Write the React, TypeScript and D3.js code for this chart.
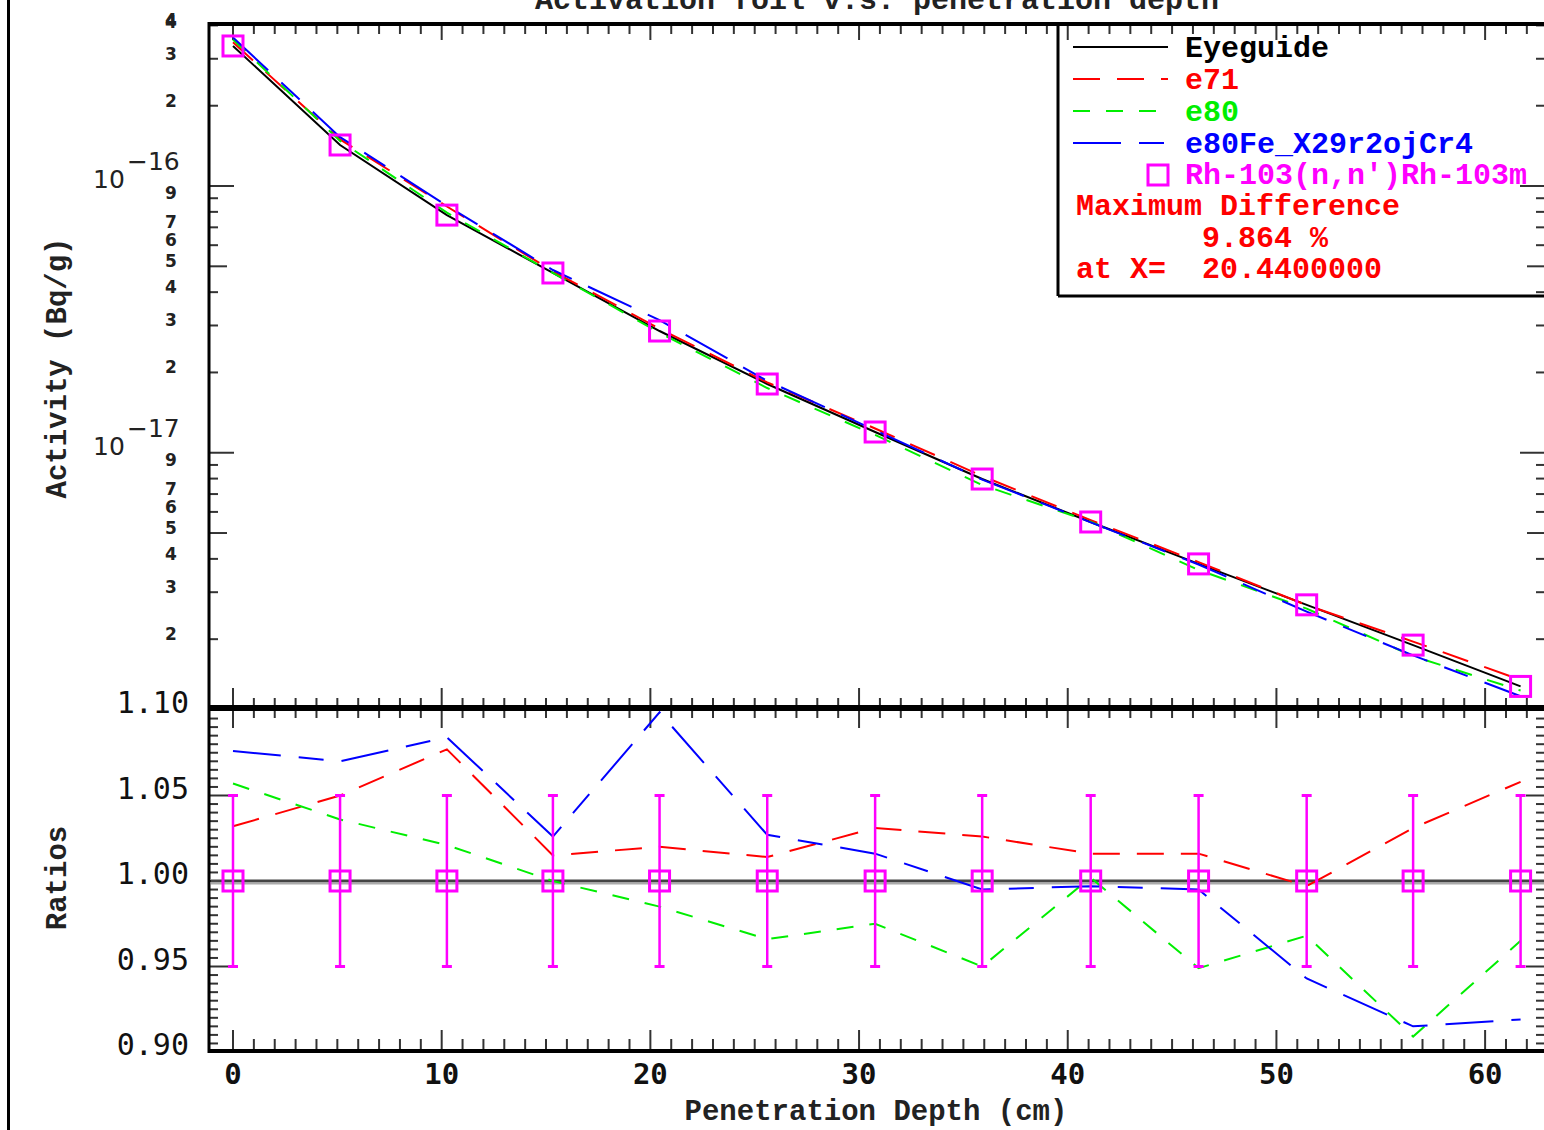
import React from 'react';
import * as d3 from 'd3';

// depth points (cm) and measured activity (Bq/g)
const depth = [0, 5.13, 10.25, 15.33, 20.44, 25.6, 30.77, 35.9, 41.1, 46.27, 51.45, 56.55, 61.7];
const activity = [3.35e-16, 1.425e-16, 7.78e-17, 4.72e-17, 2.86e-17, 1.81e-17, 1.196e-17, 7.97e-18, 5.5e-18, 3.83e-18, 2.69e-18, 1.9e-18, 1.33e-18];

// calculated / measured ratios
const ratioE71 = [1.032, 1.05, 1.077, 1.015, 1.02, 1.014, 1.031, 1.026, 1.016, 1.016, 0.997, 1.031, 1.058];
const ratioE80 = [1.057, 1.036, 1.021, 1.0, 0.985, 0.966, 0.975, 0.95, 1.002, 0.949, 0.968, 0.909, 0.965];
const ratioE80Fe = [1.076, 1.07, 1.084, 1.026, 1.0986, 1.027, 1.016, 0.995, 0.997, 0.995, 0.943, 0.915, 0.919];
const errLow = 0.95;
const errHigh = 1.05;

const xTickLabels = [0, 10, 20, 30, 40, 50, 60];
const ratioTickLabels = ['1.10', '1.05', '1.00', '0.95', '0.90'];
const logDecades = [-18, -17, -16];
const logMinorLabels = [2, 3, 4, 5, 6, 7, 9];

const series = [
  { name: 'e71', ratio: ratioE71, color: '#ff0000', dash: '27,17' },
  { name: 'e80', ratio: ratioE80, color: '#00ee00', dash: '17,16' },
  { name: 'e80Fe_X29r2ojCr4', ratio: ratioE80Fe, color: '#0000ff', dash: '48,18,25,18' },
];

const MONO = '"Liberation Mono", monospace';
const NUM = '"DejaVu Sans Mono", monospace';
const SANS = '"DejaVu Sans", sans-serif';

const App = () => {
  const left = 209, right = 1545, top = 24, mid = 708, bottom = 1051;

  const x = d3.scaleLinear().domain([-1.15, 62.87]).range([left, right]);
  const yLog = d3.scaleLog().domain([1.104e-18, 4.05e-16]).range([mid, top]);
  const yR = d3.scaleLinear().domain([0.9, 1.1]).range([1052, 710]);

  const lineTop = d3.line<number>().x((_, i) => x(depth[i])).y(v => yLog(v));
  const lineRatio = d3.line<number>().x((_, i) => x(depth[i])).y(v => yR(v));

  const xTicks = d3.range(0, 63);
  const logTicks: number[] = [];
  logDecades.forEach(d => {
    for (let m = 1; m <= 9; m++) {
      const v = m * Math.pow(10, d);
      if (v >= 1.104e-18 && v <= 4.05e-16) logTicks.push(v);
    }
  });
  const ratioTicks = d3.range(0, 41).map(i => 0.9 + i * 0.005);

  const tickColor = '#333';

  return (
    <div style={{ position: 'fixed', left: 0, top: 0 }}>
      <svg width={1544} height={1130} style={{ display: 'block', background: '#fff' }}>
        {/* page border */}
        <line x1={8.5} x2={8.5} y1={0} y2={1130} stroke="#000" strokeWidth={3} />

        {/* title, mostly cut at top */}
        <text x={877} y={9} textAnchor="middle" fontFamily={MONO} fontWeight="bold" fontSize={30} fill="#222">
          Activation foil v.s. penetration depth
        </text>

        {/* x ticks: top of upper, middle, bottom */}
        {xTicks.map(t => {
          const major = t % 10 === 0;
          const xx = x(t);
          return (
            <g key={'xt' + t} stroke={tickColor} strokeWidth={2}>
              <line x1={xx} x2={xx} y1={top} y2={top + (major ? 16 : 10)} />
              <line x1={xx} x2={xx} y1={mid - (major ? 20 : 10)} y2={mid + (major ? 20 : 10)} />
              <line x1={xx} x2={xx} y1={bottom} y2={bottom - (major ? 21 : 12)} />
            </g>
          );
        })}

        {/* log y ticks */}
        {logTicks.map((v, i) => {
          const m = Math.round(v / Math.pow(10, Math.floor(Math.log10(v) + 1e-9)));
          const len = m === 1 ? 25 : m === 5 ? 18 : 9;
          const yy = yLog(v);
          return (
            <g key={'lt' + i} stroke={tickColor} strokeWidth={2}>
              <line x1={left} x2={left + len} y1={yy} y2={yy} />
              <line x1={right} x2={right - len} y1={yy} y2={yy} />
            </g>
          );
        })}

        {/* ratio y ticks */}
        {ratioTicks.map((v, i) => {
          const len = i % 10 === 0 ? 19 : 9;
          const yy = yR(v);
          return (
            <g key={'rt' + i} stroke={tickColor} strokeWidth={2}>
              <line x1={left} x2={left + len} y1={yy} y2={yy} />
              <line x1={right} x2={right - len} y1={yy} y2={yy} />
            </g>
          );
        })}

        {/* frame */}
        <g stroke="#000" fill="none">
          <line x1={left} x2={left} y1={top - 2} y2={bottom + 2} strokeWidth={3} />
          <line x1={left} x2={right} y1={top} y2={top} strokeWidth={4} />
          <line x1={left} x2={right} y1={mid} y2={mid} strokeWidth={6} />
          <line x1={left} x2={right} y1={bottom} y2={bottom} strokeWidth={4} />
        </g>

        {/* upper panel curves */}
        <path d={lineTop(activity) || ''} fill="none" stroke="#000" strokeWidth={2} />
        {series.map(s => (
          <path
            key={'u' + s.name}
            d={lineTop(activity.map((a, i) => a * s.ratio[i])) || ''}
            fill="none"
            stroke={s.color}
            strokeWidth={2}
            strokeDasharray={s.dash}
          />
        ))}
        {activity.map((a, i) => (
          <rect key={'sq' + i} x={x(depth[i]) - 10} y={yLog(a) - 10} width={20} height={20}
            fill="none" stroke="#ff00ff" strokeWidth={3} />
        ))}

        {/* ratio panel */}
        <line x1={left + 2} x2={right} y1={yR(1)} y2={yR(1)} stroke="#444" strokeWidth={3} />
        <line x1={left + 2} x2={right} y1={yR(1) + 2.5} y2={yR(1) + 2.5} stroke="#aaa" strokeWidth={2} />
        {series.map(s => (
          <path
            key={'r' + s.name}
            d={lineRatio(s.ratio) || ''}
            fill="none"
            stroke={s.color}
            strokeWidth={2}
            strokeDasharray={s.dash}
          />
        ))}
        {depth.map((d, i) => {
          const xx = x(d);
          return (
            <g key={'eb' + i} stroke="#ff00ff" fill="none">
              <line x1={xx} x2={xx} y1={yR(errLow)} y2={yR(errHigh)} strokeWidth={2.5} />
              <line x1={xx - 5} x2={xx + 5} y1={yR(errLow)} y2={yR(errLow)} strokeWidth={3} />
              <line x1={xx - 5} x2={xx + 5} y1={yR(errHigh)} y2={yR(errHigh)} strokeWidth={3} />
              <rect x={xx - 10} y={yR(1) - 10} width={20} height={20} strokeWidth={3} />
            </g>
          );
        })}

        {/* legend box */}
        <g stroke="#000" strokeWidth={3}>
          <line x1={1058} x2={1058} y1={top} y2={296} />
          <line x1={1058} x2={right} y1={296} y2={296} />
        </g>
        <line x1={1073} x2={1168} y1={47} y2={47} stroke="#000" strokeWidth={2} />
        <text x={1185} y={57} fontFamily={MONO} fontWeight="bold" fontSize={30} fill="#000">Eyeguide</text>
        {series.map((s, i) => (
          <g key={'lg' + s.name}>
            <line x1={1073} x2={1168} y1={79 + i * 32} y2={79 + i * 32} stroke={s.color} strokeWidth={2} strokeDasharray={s.dash} />
            <text x={1185} y={89 + i * 32} fontFamily={MONO} fontWeight="bold" fontSize={30} fill={s.color}>{s.name}</text>
          </g>
        ))}
        <rect x={1148} y={165} width={20} height={20} fill="none" stroke="#ff00ff" strokeWidth={3} />
        <text x={1185} y={184} fontFamily={MONO} fontWeight="bold" fontSize={30} fill="#ff00ff">Rh-103(n,n')Rh-103m</text>
        <g fontFamily={MONO} fontWeight="bold" fontSize={30} fill="#ff0000" style={{ whiteSpace: 'pre' }}>
          <text x={1076} y={215}>Maximum Difference</text>
          <text x={1202} y={247}>9.864 %</text>
          <text x={1076} y={278} xmlSpace="preserve">{'at X=  20.4400000'}</text>
        </g>

        {/* x tick labels */}
        {xTickLabels.map(t => (
          <text key={'xl' + t} x={x(t)} y={1084} textAnchor="middle" fontFamily={NUM} fontWeight="bold" fontSize={29} fill="#111">{t}</text>
        ))}
        <text x={876} y={1120} textAnchor="middle" fontFamily={MONO} fontWeight="bold" fontSize={29} fill="#222">Penetration Depth (cm)</text>

        {/* ratio labels */}
        {ratioTickLabels.map(l => (
          <text key={'rl' + l} x={189} y={yR(+l) + 3} textAnchor="end" fontFamily={NUM} fontSize={30} fill="#111">{l}</text>
        ))}

        {/* log decade labels */}
        {[-16, -17].map(d => {
          const yy = yLog(Math.pow(10, d));
          return (
            <g key={'dl' + d} fontFamily={SANS} fontSize={25} fill="#222">
              <text x={93} y={yy + 2}>10</text>
              <text x={127} y={yy - 16}>{'\u2212' + Math.abs(d)}</text>
            </g>
          );
        })}
        {/* log minor labels */}
        {logDecades.flatMap(d => logMinorLabels.map(m => {
          const v = m * Math.pow(10, d);
          if (v < 1.104e-18 || v > 4.05e-16) return null;
          return (
            <text key={'ml' + d + m} x={171} y={yLog(v) + 1} textAnchor="middle" fontFamily={SANS} fontWeight="bold" fontSize={17} fill="#222">{m}</text>
          );
        }))}
        <text x={171} y={yLog(4e-16) + 3} textAnchor="middle" fontFamily={SANS} fontWeight="bold" fontSize={17} fill="#222">4</text>

        {/* axis titles */}
        <text transform="translate(66,368) rotate(-90)" textAnchor="middle" fontFamily={MONO} fontWeight="bold" fontSize={29} fill="#222">Activity (Bq/g)</text>
        <text transform="translate(66,878) rotate(-90)" textAnchor="middle" fontFamily={MONO} fontWeight="bold" fontSize={29} fill="#222">Ratios</text>
      </svg>
    </div>
  );
};

export default App;
